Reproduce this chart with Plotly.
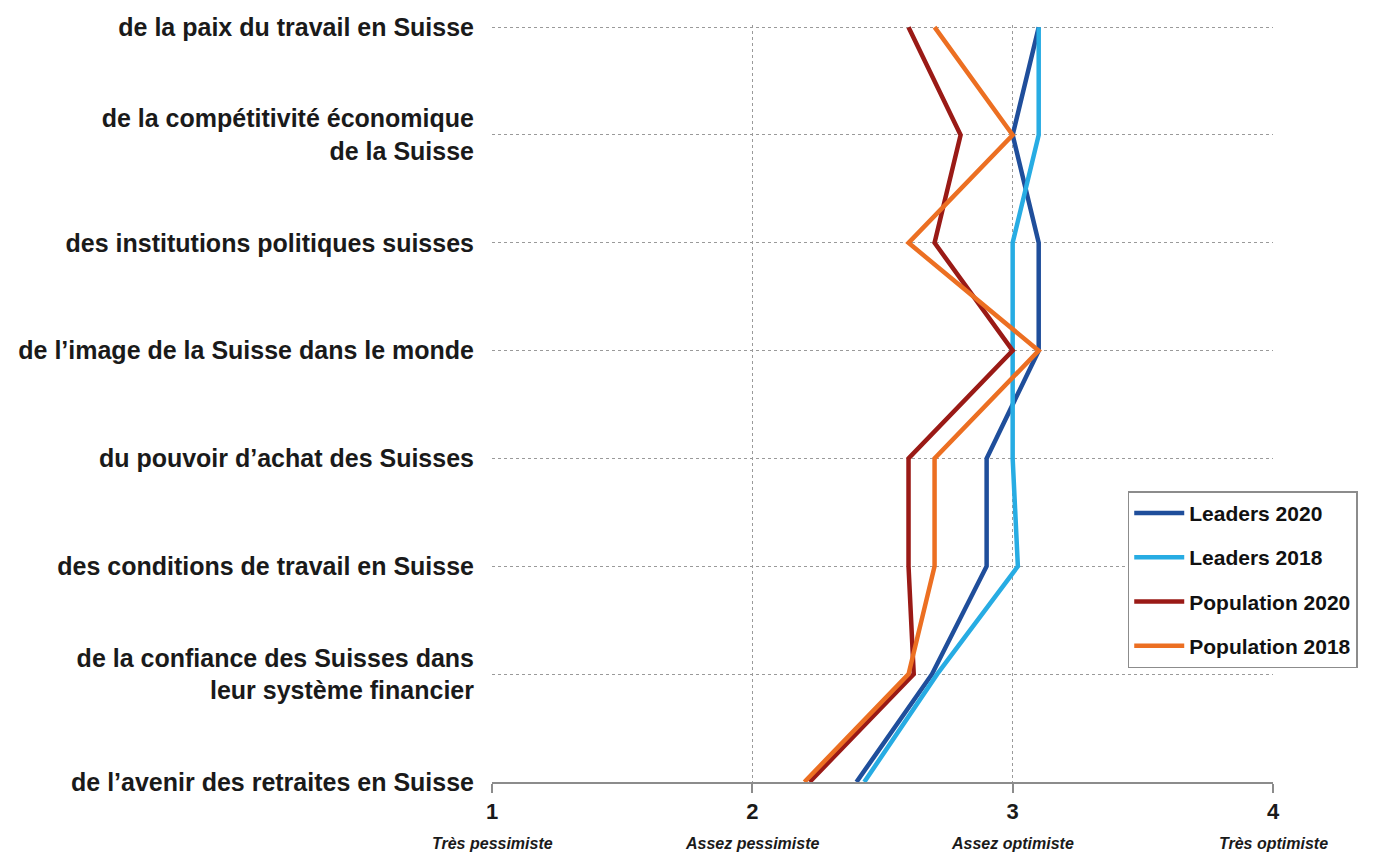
import plotly.graph_objects as go

# Domaines évalués (de haut en bas)
categories = [
    "de la paix du travail en Suisse",
    "de la compétitivité économique<br>de la Suisse",
    "des institutions politiques suisses",
    "de l’image de la Suisse dans le monde",
    "du pouvoir d’achat des Suisses",
    "des conditions de travail en Suisse",
    "de la confiance des Suisses dans<br>leur système financier",
    "de l’avenir des retraites en Suisse",
]

# Moyennes par groupe (1 = très pessimiste ... 4 = très optimiste)
leaders_2020 = [3.10, 3.00, 3.10, 3.10, 2.90, 2.90, 2.69, 2.40]
leaders_2018 = [3.10, 3.10, 3.00, 3.00, 3.00, 3.02, 2.71, 2.43]
population_2020 = [2.60, 2.80, 2.70, 3.00, 2.60, 2.60, 2.62, 2.22]
population_2018 = [2.70, 3.00, 2.60, 3.10, 2.70, 2.70, 2.60, 2.20]

x_ticks = [1, 2, 3, 4]
x_sublabels = ["Très pessimiste", "Assez pessimiste", "Assez optimiste", "Très optimiste"]

series = [
    ("Leaders 2020", leaders_2020, "#1f4e9b"),
    ("Leaders 2018", leaders_2018, "#27ace3"),
    ("Population 2020", population_2020, "#9a1a16"),
    ("Population 2018", population_2018, "#ec6f22"),
]

FONT = "Liberation Sans, Arial, sans-serif"
positions = list(range(len(categories)))

fig = go.Figure()
for i, (name, values, color) in enumerate(series):
    fig.add_trace(go.Scatter(
        x=values, y=positions, mode="lines", name=f"<b>{name}</b>",
        legendgroup=f"g{i}",
        line=dict(color=color, width=4.5),
    ))

fig.update_layout(
    width=1384, height=852,
    margin=dict(l=492, r=111, t=25, b=70),
    paper_bgcolor="white", plot_bgcolor="white",
    font=dict(family=FONT, color="#1a1a1a"),
    showlegend=True,
    legend=dict(
        x=0.814, y=0.384, xanchor="left", yanchor="top",
        bordercolor="#8c8c8c", borderwidth=1.5, bgcolor="white",
        font=dict(family=FONT, size=21, color="#111111"),
        itemwidth=50, traceorder="grouped", tracegroupgap=14,
    ),
)

# small pad above the first category so its dotted gridline is kept
fig.update_yaxes(
    range=[len(categories) - 1, -0.02],
    tickvals=positions,
    ticktext=[f"<b>{c}</b>" for c in categories],
    tickfont=dict(family=FONT, size=25, color="#1a1a1a"),
    ticks="outside", ticklen=12, tickcolor="rgba(0,0,0,0)",
    showgrid=True, gridcolor="#9a9a9a", griddash="dot", gridwidth=1.2,
    zeroline=False, showline=False,
)

fig.update_xaxes(
    range=[1, 4],
    tickvals=x_ticks,
    ticktext=[f"<b>{v}</b>" for v in x_ticks],
    tickfont=dict(family=FONT, size=22, color="#1a1a1a"),
    ticks="outside", ticklen=9, tickcolor="#8c8c8c", tickwidth=1.5,
    showgrid=False,
    minor=dict(tickvals=x_ticks[1:], showgrid=True, gridcolor="#9a9a9a",
               griddash="dot", gridwidth=1.2, ticks=""),
    showline=True, linecolor="#8c8c8c", linewidth=1.5,
    zeroline=False,
)

for v, lab in zip(x_ticks, x_sublabels):
    fig.add_annotation(
        x=v, y=0, xref="x", yref="paper", yshift=-61,
        text=f"<b><i>{lab}</i></b>", showarrow=False,
        font=dict(family=FONT, size=16, color="#1a1a1a"),
        xanchor="center", yanchor="middle",
    )

fig.write_html("out.html")
